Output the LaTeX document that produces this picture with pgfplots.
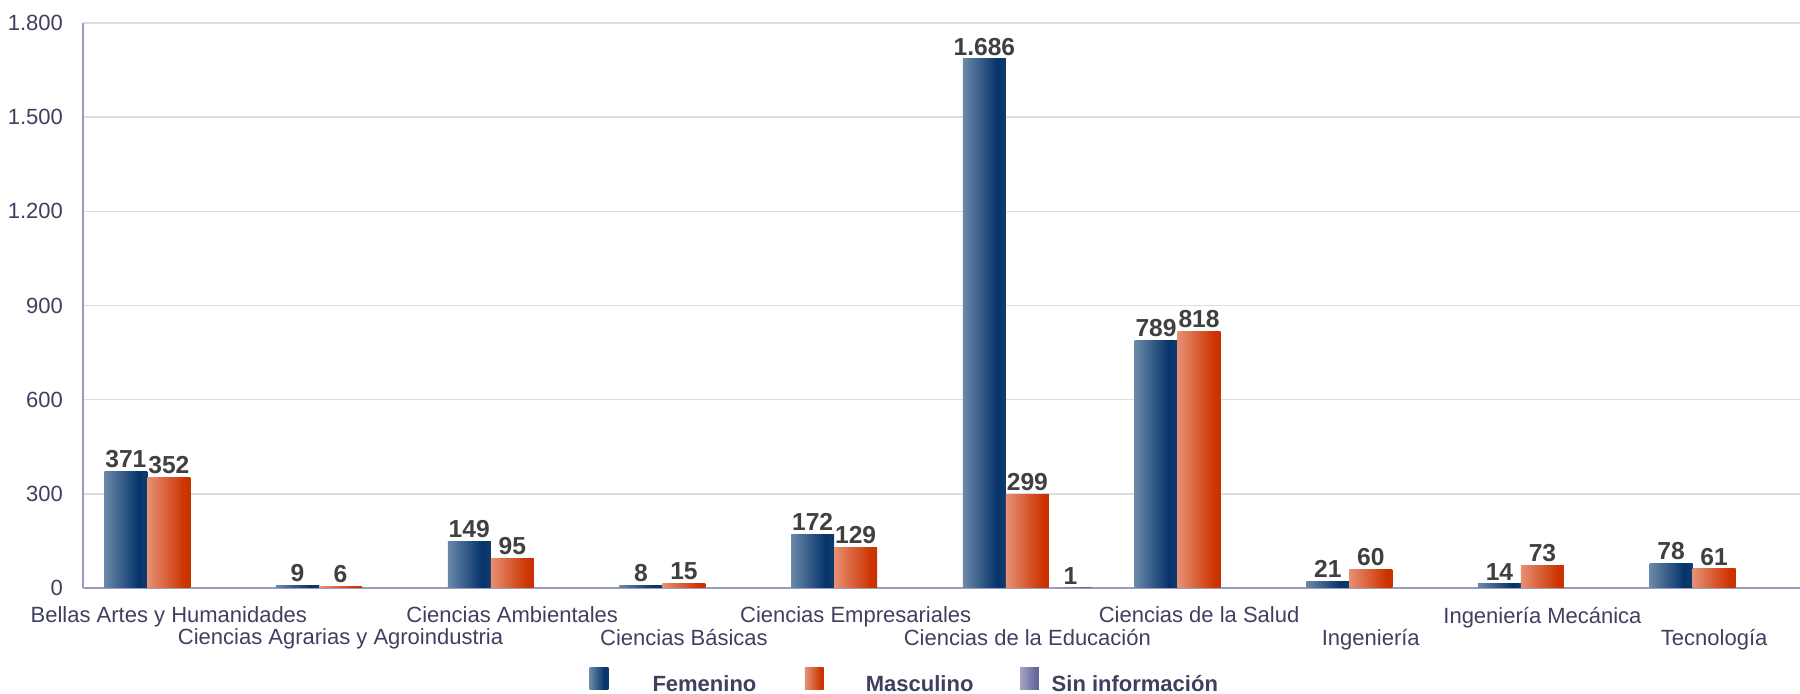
\documentclass[border=0pt]{standalone}
\usepackage{fontspec}
\setmainfont{Liberation Sans}
\usepackage{pgfplots}
\pgfplotsset{compat=1.18}

\definecolor{femA}{HTML}{2E5079}
\definecolor{femB}{HTML}{7893B0}
\definecolor{femC}{HTML}{05336A}
\definecolor{femD}{HTML}{24466F}
\definecolor{mascA}{HTML}{D4522B}
\definecolor{mascB}{HTML}{E8977C}
\definecolor{mascC}{HTML}{CC3300}
\definecolor{mascD}{HTML}{B83206}
\definecolor{sinA}{HTML}{7474A4}
\definecolor{sinB}{HTML}{A9A9CB}
\definecolor{sinC}{HTML}{65659A}
\definecolor{labcol}{HTML}{404040}
\definecolor{txtcol}{HTML}{3F4060}
\definecolor{gridcol}{HTML}{DCDCE8}
\definecolor{axcol}{HTML}{9A9AC2}

\pgfdeclarehorizontalshading{femshade}{100bp}{color(0bp)=(femA); color(20bp)=(femB); color(65bp)=(femC); color(88bp)=(femD); color(100bp)=(femC)}
\pgfdeclarehorizontalshading{mascshade}{100bp}{color(0bp)=(mascA); color(22bp)=(mascB); color(68bp)=(mascC); color(100bp)=(mascD)}
\pgfdeclarehorizontalshading{sinshade}{100bp}{color(0bp)=(sinA); color(22bp)=(sinB); color(68bp)=(sinC); color(100bp)=(sinA)}

\pgfplotsset{
    femfill/.style={draw=none, shading=femshade},
    mascfill/.style={draw=none, shading=mascshade},
    sinfill/.style={draw=none, shading=sinshade},
    onebar/.style={ybar, bar width=21.5pt, forget plot,
        bar shift=#1, every node near coord/.append style={xshift=#1}},
}
% one plot per bar, so that every bar gets its own shading
\newcommand{\fembar}[2]{\addplot[onebar=-21.5pt, femfill] coordinates {(#1,#2)};}
\newcommand{\mascbar}[2]{\addplot[onebar=0pt, mascfill] coordinates {(#1,#2)};}
\newcommand{\sinbar}[2]{\addplot[onebar=21.5pt, sinfill] coordinates {(#1,#2)};}

\begin{document}
\begin{tikzpicture}
\begin{axis}[
    scale only axis,
    width=858.5pt, height=282.5pt,
    xmin=-0.5, xmax=9.5,
    ymin=0, ymax=1800,
    ytick={0,300,600,900,1200,1500,1800},
    axis x line*=bottom, axis y line*=left,
    axis line style={axcol, line width=0.9pt},
    ymajorgrids, grid style={gridcol, line width=0.8pt},
    major tick length=0pt,
    xtick={0,2,4,6,8},
    xticklabels={Bellas Artes y Humanidades, Ciencias Ambientales, Ciencias Empresariales, Ciencias de la Salud, Ingeniería Mecánica},
    extra x ticks={1,3,5,7,9},
    extra x tick labels={Ciencias Agrarias y Agroindustria, Ciencias Básicas, Ciencias de la Educación, Ingeniería, Tecnología},
    extra x tick style={grid=none, xticklabel style={yshift=-11pt}},
    xticklabel style={yshift=-6pt},
    yticklabel style={xshift=-6.5pt},
    tick label style={font=\fontsize{11}{13}\selectfont, text=txtcol},
    /pgf/number format/.cd, 1000 sep={.}, assume math mode=true, /pgfplots/.cd,
    nodes near coords,
    every node near coord/.append style={font=\bfseries\fontsize{12.3}{14}\selectfont, text=labcol, inner sep=1.5pt},
    legend columns=3,
    legend style={at={(axis description cs:0.4818,-0.168)}, anchor=center, draw=none,
        font=\bfseries\fontsize{11}{13}\selectfont, text=txtcol,
        /tikz/every even column/.append style={column sep=2.2pt}},
    legend cell align=center,
    legend image code/.code={\path[#1, draw=none] (0pt,-2pt) rectangle (9.4pt,9pt);},
]
\fembar{0}{371}  \mascbar{0}{352}
\fembar{1}{9}    \mascbar{1}{6}
\fembar{2}{149}  \mascbar{2}{95}
\fembar{3}{8}    \mascbar{3}{15}
\fembar{4}{172}  \mascbar{4}{129}
\fembar{5}{1686} \mascbar{5}{299} \sinbar{5}{1}
\fembar{6}{789}  \mascbar{6}{818}
\fembar{7}{21}   \mascbar{7}{60}
\fembar{8}{14}   \mascbar{8}{73}
\fembar{9}{78}   \mascbar{9}{61}
\addlegendimage{femfill}
\addlegendimage{mascfill}
\addlegendimage{sinfill}
\legend{\makebox[92pt][c]{Femenino}, \makebox[92pt][c]{Masculino}, \makebox[92pt][c]{Sin información}}
\coordinate (O) at (rel axis cs:0,0);
\end{axis}
\pgfresetboundingbox
\path (O) ++(-41.5pt,-53pt) rectangle ++(900pt,347pt);
\end{tikzpicture}
\end{document}
